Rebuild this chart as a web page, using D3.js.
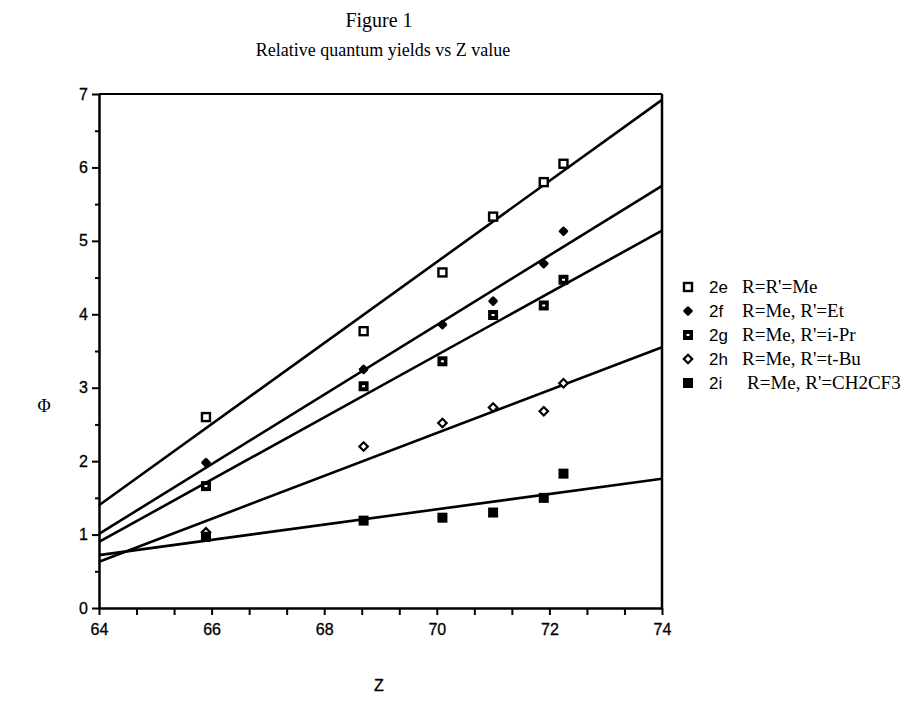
<!DOCTYPE html>
<html>
<head>
<meta charset="utf-8">
<script src="https://cdn.jsdelivr.net/npm/d3@7"></script>
<style>
  body { margin: 0; background: #fff; }
</style>
</head>
<body>
<div id="chart"></div>
<script>
// Z values of the compounds
const zValues = [65.9, 68.7, 70.1, 71.0, 71.9, 72.25];

// relative quantum yields, one array per series
const yield2e = [2.60, 3.77, 4.57, 5.33, 5.80, 6.05];
const yield2f = [1.98, 3.25, 3.86, 4.18, 4.69, 5.13];
const yield2g = [1.66, 3.02, 3.36, 3.99, 4.12, 4.47];
const yield2h = [1.03, 2.20, 2.52, 2.73, 2.68, 3.06];
const yield2i = [0.97, 1.19, 1.23, 1.30, 1.50, 1.83];

// fitted lines, value at Z=64 and Z=74
const fitZ = [64, 74];
const fit2e = [1.40, 6.92];
const fit2f = [1.01, 5.75];
const fit2g = [0.90, 5.14];
const fit2h = [0.63, 3.55];
const fit2i = [0.72, 1.76];

const codes = ["2e", "2f", "2g", "2h", "2i"];
const labels = ["R=R'=Me", "R=Me, R'=Et", "R=Me, R'=i-Pr", "R=Me, R'=t-Bu", "R=Me, R'=CH2CF3"];
const xTicks = [64, 66, 68, 70, 72, 74];
const yTicks = [0, 1, 2, 3, 4, 5, 6, 7];

const seriesYields = [yield2e, yield2f, yield2g, yield2h, yield2i];
const seriesFits = [fit2e, fit2f, fit2g, fit2h, fit2i];

const W = 910, H = 705;
const m = { left: 99, right: 248, top: 94, bottom: 97 };

const svg = d3.select("#chart").append("svg").attr("width", W).attr("height", H);

const x = d3.scaleLinear().domain([64, 74]).range([m.left, W - m.right]);
const y = d3.scaleLinear().domain([0, 7]).range([H - m.bottom, m.top]);

const serif = "'Liberation Serif', 'Times New Roman', serif";
const sans = "'Liberation Sans', Arial, sans-serif";

// title
svg.append("text").attr("x", 379).attr("y", 27).attr("text-anchor", "middle")
  .style("font-family", serif).style("font-size", "20px")
  .text("Figure 1");
svg.append("text").attr("x", 383).attr("y", 56).attr("text-anchor", "middle")
  .style("font-family", serif).style("font-size", "18px")
  .text("Relative quantum yields vs Z value");

// frame top + right
svg.append("line").attr("x1", x(64)).attr("x2", x(74)).attr("y1", y(7)).attr("y2", y(7))
  .attr("stroke", "#000").attr("stroke-width", 2);
svg.append("line").attr("x1", x(74)).attr("x2", x(74)).attr("y1", y(7)).attr("y2", y(0))
  .attr("stroke", "#000").attr("stroke-width", 2.5);

function tickStyle(sel) {
  sel.style("font-family", sans).style("font-size", "16px").style("fill", "#000")
    .style("stroke", "#000").style("stroke-width", "0.3px");
}

// x axis: minor ticks each 2/3, labels each 2
const xMinor = d3.range(0, 16).map(i => 64 + i * 2 / 3);
const gx = svg.append("g").attr("transform", `translate(0,${y(0)})`)
  .call(d3.axisBottom(x).tickValues(xMinor).tickSize(7).tickSizeOuter(0)
    .tickFormat(d => {
      const r = Math.round(d);
      return Math.abs(d - r) < 1e-6 && xTicks.includes(r) ? r : "";
    }));
gx.select(".domain").attr("stroke-width", 2.5);
gx.selectAll(".tick line").attr("stroke-width", 2);
gx.selectAll(".tick text").attr("y", 13).attr("dy", "0.9em").call(tickStyle);

// y axis: ticks every 0.5, labels on integers
const yMinor = d3.range(0, 15).map(i => i * 0.5);
const gy = svg.append("g").attr("transform", `translate(${x(64)},0)`)
  .call(d3.axisLeft(y).tickValues(yMinor).tickSizeOuter(0)
    .tickFormat(d => yTicks.includes(d) ? d : ""));
gy.select(".domain").attr("stroke-width", 2.5);
gy.selectAll(".tick line").attr("stroke-width", 2)
  .attr("x2", d => Number.isInteger(d) ? -7 : -4);
gy.selectAll(".tick text").attr("x", -11).call(tickStyle);

// axis titles
svg.append("text").attr("x", 44).attr("y", 412).attr("text-anchor", "middle")
  .style("font-family", serif).style("font-size", "18px")
  .text("Φ");
svg.append("text").attr("x", 379).attr("y", 691).attr("text-anchor", "middle")
  .style("font-family", sans).style("font-size", "16px").style("stroke", "#000").style("stroke-width", "0.3px")
  .text("Z");

// fitted lines
const line = d3.line().x(d => x(d[0])).y(d => y(d[1]));
seriesFits.forEach(f => {
  svg.append("path").datum(fitZ.map((z, i) => [z, f[i]]))
    .attr("d", line).attr("fill", "none").attr("stroke", "#000").attr("stroke-width", 2.6);
});

// marker drawing
function marker(g, k, cx, cy) {
  if (k === 0) {
    g.append("rect").attr("x", cx - 4).attr("y", cy - 4).attr("width", 8).attr("height", 8)
      .attr("fill", "#fff").attr("stroke", "#000").attr("stroke-width", 2.4);
  } else if (k === 1) {
    g.append("rect").attr("x", -3.8).attr("y", -3.8).attr("width", 7.6).attr("height", 7.6)
      .attr("rx", 1.5).attr("transform", `translate(${cx},${cy}) rotate(45)`).attr("fill", "#000");
  } else if (k === 2) {
    g.append("rect").attr("x", cx - 5).attr("y", cy - 5).attr("width", 10).attr("height", 10)
      .attr("fill", "#000");
    g.append("rect").attr("x", cx - 1.5).attr("y", cy - 1).attr("width", 3).attr("height", 2)
      .attr("fill", "#fff");
  } else if (k === 3) {
    g.append("rect").attr("x", -3).attr("y", -3).attr("width", 6).attr("height", 6)
      .attr("transform", `translate(${cx},${cy}) rotate(45)`)
      .attr("fill", "#fff").attr("stroke", "#000").attr("stroke-width", 2.2);
  } else {
    g.append("rect").attr("x", cx - 5).attr("y", cy - 5).attr("width", 10).attr("height", 10)
      .attr("fill", "#000");
  }
}

const pts = svg.append("g");
seriesYields.forEach((vals, k) => {
  vals.forEach((v, i) => marker(pts, k, x(zValues[i]), y(v)));
});

// legend
const leg = svg.append("g");
codes.forEach((c, k) => {
  const ly = 287 + k * 24;
  marker(leg, k, 688, ly);
  leg.append("text").attr("x", 709).attr("y", ly + 6)
    .style("font-family", sans).style("font-size", "17px")
    .text(c);
  leg.append("text").attr("x", k === 4 ? 747 : 742).attr("y", ly + 6)
    .style("font-family", serif).style("font-size", "19px")
    .text(labels[k]);
});
</script>
</body>
</html>
